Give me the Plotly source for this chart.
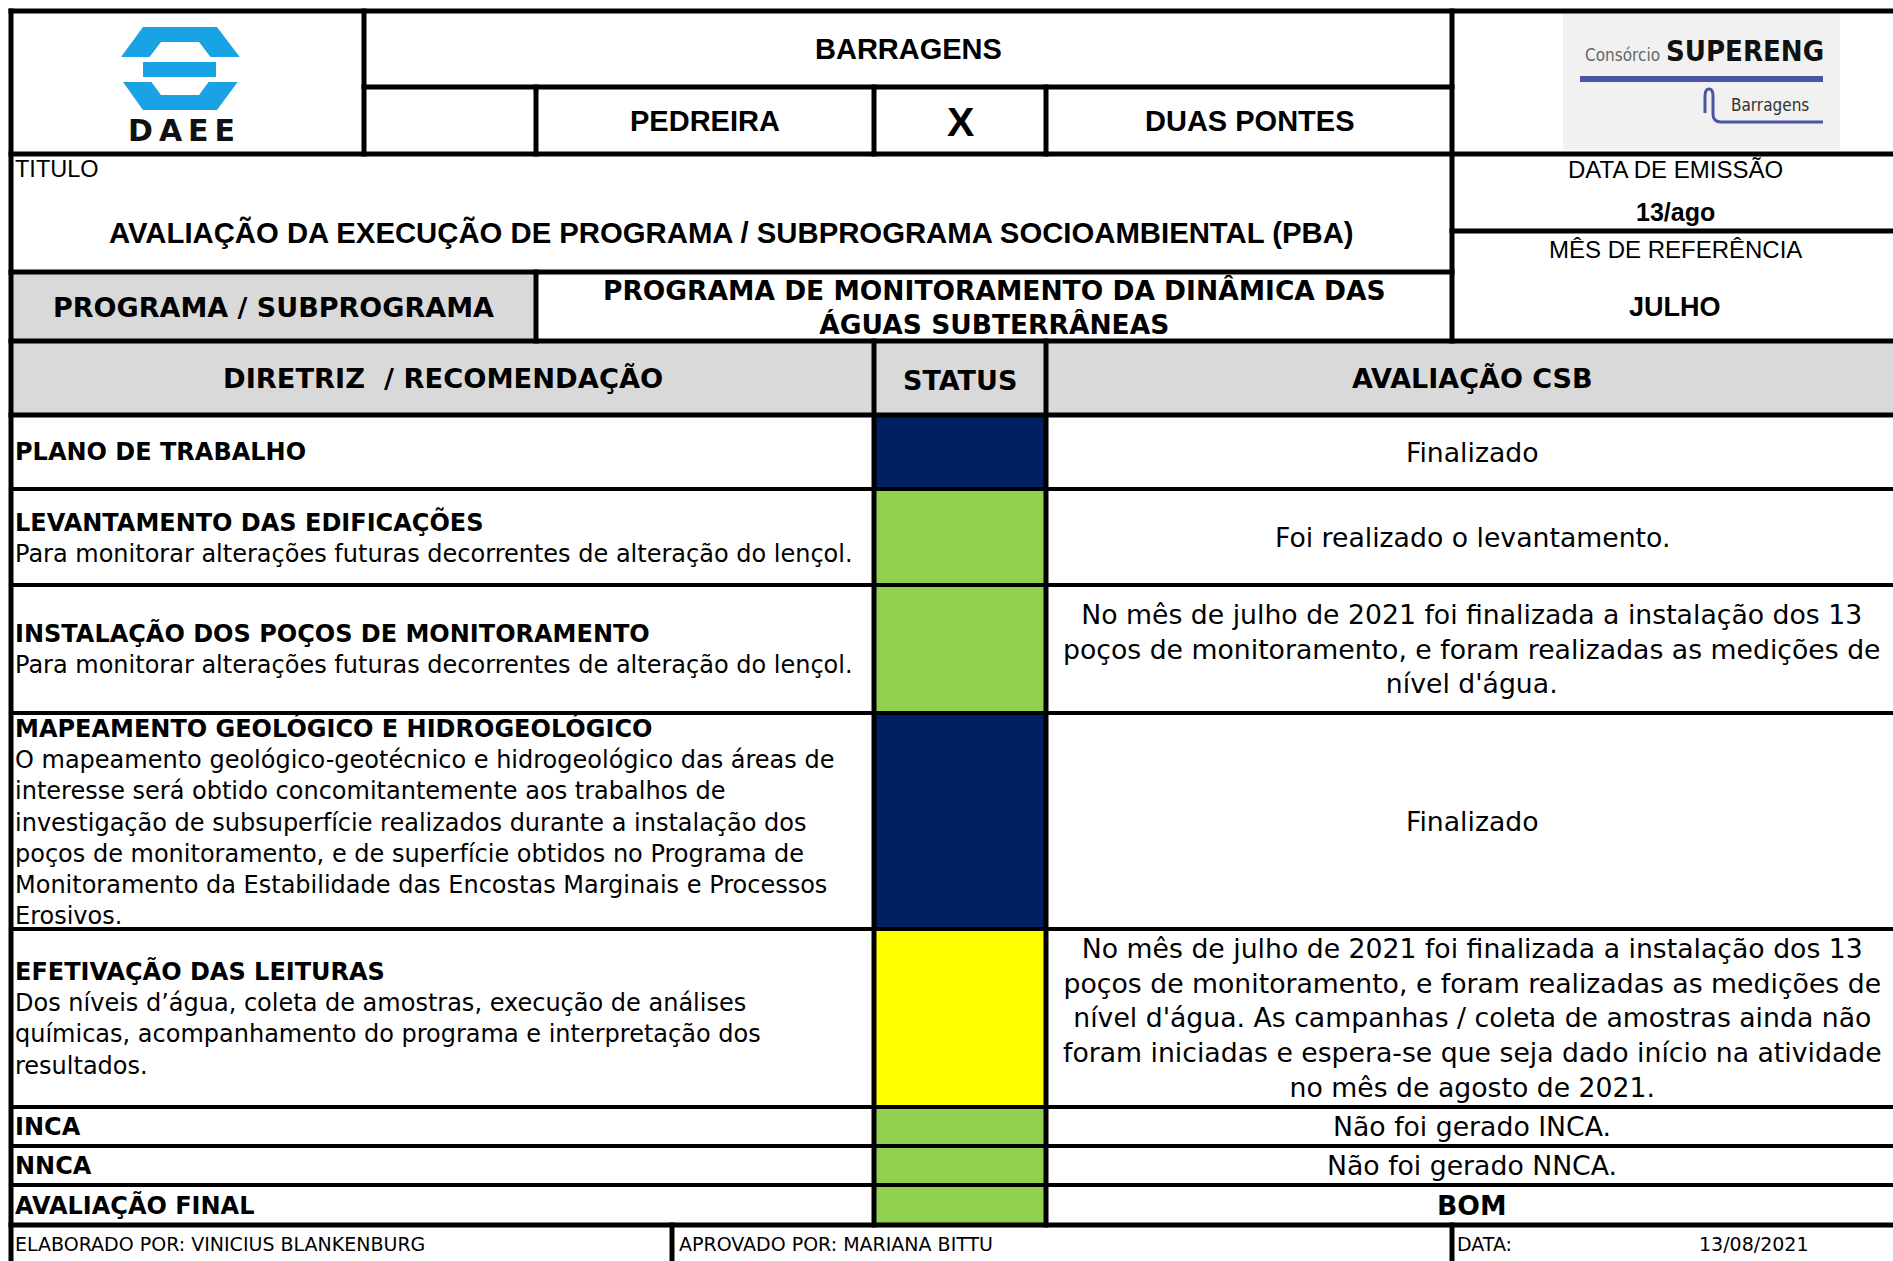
import plotly.graph_objects as go

# ---------------- data ----------------
site_title = "BARRAGENS"
dam_names = ["PEDREIRA", "X", "DUAS PONTES"]
title_label = "TITULO"
title_text = "AVALIAÇÃO DA EXECUÇÃO DE PROGRAMA / SUBPROGRAMA SOCIOAMBIENTAL (PBA)"
issue_label = "DATA DE EMISSÃO"
issue_date = "13/ago"
reference_label = "MÊS DE REFERÊNCIA"
reference_month = "JULHO"
program_label = "PROGRAMA / SUBPROGRAMA"
program_name_lines = ["PROGRAMA DE MONITORAMENTO DA DINÂMICA DAS", "ÁGUAS SUBTERRÂNEAS"]
column_headers = ["DIRETRIZ  / RECOMENDAÇÃO", "STATUS", "AVALIAÇÃO CSB"]

guideline_titles = [
    "PLANO DE TRABALHO",
    "LEVANTAMENTO DAS EDIFICAÇÕES",
    "INSTALAÇÃO DOS POÇOS DE MONITORAMENTO",
    "MAPEAMENTO GEOLÓGICO E HIDROGEOLÓGICO",
    "EFETIVAÇÃO DAS LEITURAS",
    "INCA",
    "NNCA",
    "AVALIAÇÃO FINAL",
]
guideline_descriptions = [
    [],
    ["Para monitorar alterações futuras decorrentes de alteração do lençol."],
    ["Para monitorar alterações futuras decorrentes de alteração do lençol."],
    ["O mapeamento geológico-geotécnico e hidrogeológico das áreas de",
     "interesse será obtido concomitantemente aos trabalhos de",
     "investigação de subsuperfície realizados durante a instalação dos",
     "poços de monitoramento, e de superfície obtidos no Programa de",
     "Monitoramento da Estabilidade das Encostas Marginais e Processos",
     "Erosivos."],
    ["Dos níveis d’água, coleta de amostras, execução de análises",
     "químicas, acompanhamento do programa e interpretação dos",
     "resultados."],
    [],
    [],
    [],
]
guideline_status = ["CONCLUÍDO", "EM DIA", "EM DIA", "CONCLUÍDO", "ATENÇÃO", "EM DIA", "EM DIA", "EM DIA"]
evaluation_lines = [
    ["Finalizado"],
    ["Foi realizado o levantamento."],
    ["No mês de julho de 2021 foi finalizada a instalação dos 13",
     "poços de monitoramento, e foram realizadas as medições de",
     "nível d'água."],
    ["Finalizado"],
    ["No mês de julho de 2021 foi finalizada a instalação dos 13",
     "poços de monitoramento, e foram realizadas as medições de",
     "nível d'água. As campanhas / coleta de amostras ainda não",
     "foram iniciadas e espera-se que seja dado início na atividade",
     "no mês de agosto de 2021."],
    ["Não foi gerado INCA."],
    ["Não foi gerado NNCA."],
    ["BOM"],
]
evaluation_bold = [False, False, False, False, False, False, False, True]
footer_prepared = "ELABORADO POR: VINICIUS BLANKENBURG"
footer_approved = "APROVADO POR: MARIANA BITTU"
footer_date_label = "DATA:"
footer_date = "13/08/2021"
logo_left_text = "DAEE"
logo_right_texts = ["Consórcio", "SUPERENG", "Barragens"]

# ---------------- layout constants ----------------
W, H = 1893, 1261
OFF = 0
XL, XR = 11, 1898
X_LOGO, X_P, X_S, X_E, X_R, X_F = 364, 536, 874, 1046, 1452, 672
Y_TOP, Y_R1, Y_T, Y_D, Y_P, Y_H = 11, 87, 154, 231, 272, 341
ROW_BOUNDS = [415, 489, 585, 713, 929, 1107, 1146, 1185, 1225]
Y_BOT = 1275
STATUS_COLORS = {"CONCLUÍDO": "#002060", "EM DIA": "#92D050", "ATENÇÃO": "#FFFF00"}
GRAY = "#D9D9D9"
ARIAL = "Liberation Sans, Arial, sans-serif"
VERD = "DejaVu Sans, Verdana, sans-serif"
COND = "DejaVu Sans Condensed, Liberation Sans, sans-serif"

shapes = []
annotations = []


def rect(x0, y0, x1, y1, fill, line_color=None, lw=0):
    shapes.append(dict(type="rect", xref="x", yref="y", x0=x0, y0=y0, x1=x1, y1=y1,
                       fillcolor=fill, line=dict(width=lw, color=line_color or fill), layer="above"))


def path(d, fill=None, color=None, lw=0):
    s = dict(type="path", xref="x", yref="y", path=d, layer="above",
             line=dict(width=lw, color=color or "rgba(0,0,0,0)"))
    if fill:
        s["fillcolor"] = fill
    shapes.append(s)


def hline(y, x0, x1, w=5):
    shapes.append(dict(type="line", xref="x", yref="y", x0=x0 - w / 2, x1=x1 + w / 2, y0=y, y1=y,
                       line=dict(color="black", width=w), layer="above"))


def vline(x, y0, y1, w=5):
    shapes.append(dict(type="line", xref="x", yref="y", x0=x, x1=x, y0=y0 - w / 2, y1=y1 + w / 2,
                       line=dict(color="black", width=w), layer="above"))


def text(x, y, s, size, family, anchor="center", bold=False, color="black"):
    if bold:
        s = "<b>" + s + "</b>"
    annotations.append(dict(x=x, y=y, xref="x", yref="y", text=s, showarrow=False,
                            xanchor=anchor, yanchor="middle", align=anchor,
                            font=dict(size=size, family=family, color=color)))


# ---------------- fills ----------------
rect(XL, Y_P, X_P, Y_H, GRAY)
rect(XL, Y_H, XR, ROW_BOUNDS[0], GRAY)
for i, st in enumerate(guideline_status):
    rect(X_S, ROW_BOUNDS[i], X_E, ROW_BOUNDS[i + 1], STATUS_COLORS[st])

# ---------------- DAEE logo ----------------
BLUE = "#19A2E4"
path("M 143 27 L 217 27 L 248 68 L 217 110 L 143 110 L 113 68 Z", fill=BLUE)
path("M 161 42 L 199 42 L 219 68 L 199 95 L 161 95 L 141 68 Z", fill="white")
rect(108, 57, 252, 82, "white")
rect(143, 62, 216, 77, BLUE)
text(181, 130, "\u2009".join(logo_left_text), 30, VERD, bold=True, color="#111111")

# ---------------- SUPERENG logo ----------------
rect(1563, 11, 1840, 150, "#F1F1F1")
rect(1580, 76, 1823, 82, "#4B55A5")
path("M 1705 113 L 1705 96 Q 1705 89 1709 89 Q 1713 89 1713 96 L 1713 114 Q 1713 122 1721 122 L 1823 122",
     color="#4B55A5", lw=3)
text(1622, 55, logo_right_texts[0], 17, COND, color="#666666")
text(1745, 51, logo_right_texts[1], 29, COND, bold=True, color="#111111")
text(1770, 105, logo_right_texts[2], 17, COND, color="#333333")

# ---------------- grid lines ----------------
hline(Y_TOP, XL, XR)
hline(Y_R1, X_LOGO, X_R)
hline(Y_T, XL, XR)
hline(Y_D, X_R, XR)
hline(Y_P, XL, X_R)
hline(Y_H, XL, XR)
hline(ROW_BOUNDS[0], XL, XR)
for yb in ROW_BOUNDS[1:-1]:
    hline(yb, XL, XR, 4)
hline(ROW_BOUNDS[-1], XL, XR)

vline(XL, Y_TOP, Y_BOT)
vline(X_LOGO, Y_TOP, Y_T)
vline(X_P, Y_R1, Y_T)
vline(X_S, Y_R1, Y_T)
vline(X_E, Y_R1, Y_T)
vline(X_R, Y_TOP, Y_H)
vline(X_P, Y_P, Y_H)
vline(X_S, Y_H, ROW_BOUNDS[-1])
vline(X_E, Y_H, ROW_BOUNDS[-1])
vline(X_F, ROW_BOUNDS[-1], Y_BOT)
vline(X_R, ROW_BOUNDS[-1], Y_BOT)
vline(XR, Y_TOP, Y_BOT)

# ---------------- header texts ----------------
RC = (X_R + XR) / 2
text((X_LOGO + X_R) / 2, (Y_TOP + Y_R1) / 2, site_title, 29, ARIAL, bold=True)
text((X_P + X_S) / 2, (Y_R1 + Y_T) / 2, dam_names[0], 29, ARIAL, bold=True)
text((X_S + X_E) / 2, (Y_R1 + Y_T) / 2 + 1, dam_names[1], 41, ARIAL, bold=True)
text((X_E + X_R) / 2, (Y_R1 + Y_T) / 2, dam_names[2], 29, ARIAL, bold=True)
text(13, 169, title_label, 23.5, ARIAL, anchor="left")
text((XL + X_R) / 2, 232, title_text, 29.3, ARIAL, bold=True)
text(RC, 169, issue_label, 24, ARIAL)
text(RC, 212, issue_date, 25, ARIAL, bold=True)
text(RC, 249, reference_label, 24, ARIAL)
text(RC, 307, reference_month, 27, ARIAL, bold=True)
text((XL + X_P) / 2, 307, program_label, 27, VERD, bold=True)
text((X_P + X_R) / 2, 307, "<br>".join("<b>" + l + "</b>" for l in program_name_lines), 26.5, VERD)

hy = (Y_H + ROW_BOUNDS[0]) / 2
text((XL + X_S) / 2, hy, column_headers[0], 27.3, VERD, bold=True)
text((X_S + X_E) / 2, hy + 2, column_headers[1], 27, VERD, bold=True)
text((X_E + XR) / 2, hy, column_headers[2], 27, VERD, bold=True)

# ---------------- body rows ----------------
for i, title in enumerate(guideline_titles):
    yc = (ROW_BOUNDS[i] + ROW_BOUNDS[i + 1]) / 2
    left = "<br>".join(["<b>" + title + "</b>"] + guideline_descriptions[i])
    text(13, yc, left, 24, VERD, anchor="left")
    ev = evaluation_lines[i]
    if evaluation_bold[i]:
        ev = ["<b>" + l + "</b>" for l in ev]
    text((X_E + XR) / 2, yc, "<br>".join(ev), 26.7, VERD)

# ---------------- footer ----------------
fy = 1243.5
text(13, fy, footer_prepared, 19, VERD, anchor="left")
text(X_F + 5, fy, footer_approved, 19, VERD, anchor="left")
text(X_R + 3, fy, footer_date_label, 19, VERD, anchor="left")
text(1754, fy, footer_date, 19, VERD)

fig = go.Figure()
fig.update_layout(
    width=W, height=H, autosize=False,
    margin=dict(l=0, r=0, t=0, b=0, pad=0),
    paper_bgcolor="white", plot_bgcolor="white",
    xaxis=dict(range=[OFF, W + OFF], visible=False, fixedrange=True),
    yaxis=dict(range=[H + OFF, OFF], visible=False, fixedrange=True),
    shapes=shapes, annotations=annotations, showlegend=False,
)
fig.write_html("out.html",
               config=dict(displayModeBar=False),
               post_script="document.body.style.margin='0';document.body.style.overflow='hidden';")
